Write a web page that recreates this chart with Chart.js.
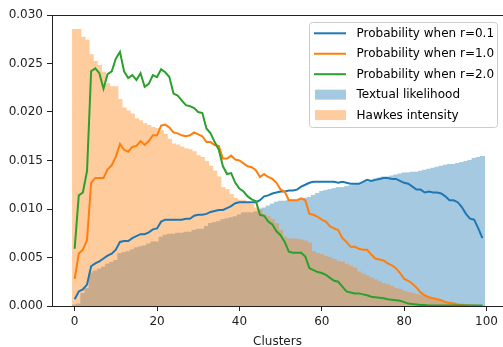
<!DOCTYPE html>
<html>
<head>
<meta charset="utf-8">
<script src="https://cdn.jsdelivr.net/npm/chart.js@4.4.1/dist/chart.umd.min.js"></script>
<style>
  html, body { margin: 0; padding: 0; background: #fff; overflow: hidden; }
  #wrap { width: 503px; height: 347px; }
</style>
</head>
<body>
<div id="wrap"><canvas id="chart" width="503" height="347"></canvas></div>
<script>
// Cluster indices 0..99
const clusters = Array.from({ length: 100 }, (_, i) => i);

const xTicks = [0, 20, 40, 60, 80, 100];
const yTicks = [0, 0.005, 0.01, 0.015, 0.02, 0.025, 0.03];

const labels = [
  "Probability when r=0.1",
  "Probability when r=1.0",
  "Probability when r=2.0",
  "Textual likelihood",
  "Hawkes intensity"
];

const probR01 = [
  0.0007, 0.0015, 0.0017, 0.0022, 0.0041, 0.0044, 0.0046, 0.0049, 0.0052, 0.0054,
  0.0058, 0.0066, 0.0067, 0.0067, 0.0070, 0.0072, 0.0074, 0.0074, 0.0076, 0.0079,
  0.0080, 0.0087, 0.0089, 0.0089, 0.0089, 0.0089, 0.0089, 0.0090, 0.0090, 0.0093,
  0.0094, 0.0094, 0.0095, 0.0097, 0.0098, 0.0099, 0.0099, 0.0101, 0.0103, 0.0106,
  0.0107, 0.0107, 0.0107, 0.0107, 0.0107, 0.0109, 0.0113, 0.0114, 0.0116, 0.0117,
  0.0118, 0.0118, 0.0119, 0.0119, 0.0120, 0.0123, 0.0125, 0.0127, 0.0128, 0.0128,
  0.0128, 0.0128, 0.0128, 0.0128, 0.0127, 0.0128, 0.0127, 0.0126, 0.0126, 0.0126,
  0.0128, 0.0130, 0.0129, 0.0130, 0.0131, 0.0132, 0.0132, 0.0131, 0.0131, 0.0129,
  0.0127, 0.0126, 0.0123, 0.0120, 0.0120, 0.0117, 0.0118, 0.0117, 0.0117, 0.0116,
  0.0113, 0.0109, 0.0109, 0.0107, 0.0102, 0.0095, 0.0090, 0.0089, 0.0080, 0.0070
];

const probR10 = [
  0.0028, 0.0054, 0.0058, 0.0068, 0.0127, 0.0132, 0.0132, 0.0132, 0.0141, 0.0145,
  0.0154, 0.0167, 0.0161, 0.0159, 0.0164, 0.0165, 0.0170, 0.0166, 0.0170, 0.0176,
  0.0176, 0.0186, 0.0187, 0.0184, 0.0179, 0.0178, 0.0176, 0.0175, 0.0176, 0.0179,
  0.0177, 0.0175, 0.0169, 0.0169, 0.0166, 0.0165, 0.0152, 0.0152, 0.0155, 0.0151,
  0.0150, 0.0147, 0.0144, 0.0143, 0.0140, 0.0133, 0.0136, 0.0133, 0.0131, 0.0127,
  0.0120, 0.0118, 0.0109, 0.0109, 0.0109, 0.0111, 0.0109, 0.0095, 0.0094, 0.0092,
  0.0089, 0.0087, 0.0082, 0.0080, 0.0078, 0.0070, 0.0066, 0.0061, 0.0061, 0.0059,
  0.0058, 0.0058, 0.0053, 0.0049, 0.0048, 0.0047, 0.0044, 0.0042, 0.0039, 0.0034,
  0.0028, 0.0026, 0.0023, 0.0019, 0.0014, 0.0011, 0.0009, 0.0008, 0.0007, 0.0006,
  0.0004, 0.0003, 0.00025, 0.00015, 0.0001, 0.00005, 0.00003, 0.00002, 0.00001, 0.00001
];

const probR20 = [
  0.0059, 0.0114, 0.0117, 0.0139, 0.0242, 0.0245, 0.0240, 0.0224, 0.0239, 0.0242,
  0.0255, 0.0262, 0.0242, 0.0235, 0.0238, 0.0233, 0.0240, 0.0226, 0.0229, 0.0238,
  0.0236, 0.0244, 0.0241, 0.0236, 0.0219, 0.0217, 0.0212, 0.0207, 0.0206, 0.0204,
  0.0200, 0.0199, 0.0183, 0.0178, 0.0169, 0.0161, 0.0144, 0.0136, 0.0137, 0.0127,
  0.0121, 0.0118, 0.0113, 0.0110, 0.0108, 0.0094, 0.0093, 0.0087, 0.0084, 0.0077,
  0.0073, 0.0066, 0.0056, 0.0055, 0.0055, 0.0055, 0.0051, 0.0039, 0.0037, 0.0035,
  0.0034, 0.0032, 0.0029, 0.0026, 0.0025, 0.0020, 0.0015, 0.0014, 0.0013, 0.0013,
  0.0012, 0.0011, 0.00095, 0.0009, 0.00085, 0.0008, 0.0007, 0.00065, 0.0006, 0.00055,
  0.0004, 0.00025, 0.0002, 0.00015, 0.0001, 0.0001, 0.00005, 0.00005, 0.00005, 0.00005,
  0.00005, 0.00005, 0.00005, 0.00005, 0.00005, 0.00005, 0.00005, 0.00005, 0.00005, 0.00005
];

const textual = [
  0.0001, 0.0002, 0.0013, 0.0018, 0.0034, 0.0036, 0.0038, 0.0040, 0.0043, 0.0045,
  0.0047, 0.0054, 0.0055, 0.0056, 0.0058, 0.0060, 0.0061, 0.0062, 0.0064, 0.0066,
  0.0066, 0.0071, 0.0073, 0.0074, 0.0074, 0.0075, 0.0075, 0.0076, 0.0076, 0.0078,
  0.0079, 0.0079, 0.0082, 0.0085, 0.0086, 0.0087, 0.0089, 0.0090, 0.0091, 0.0092,
  0.0094, 0.0096, 0.0096, 0.0096, 0.0097, 0.0100, 0.0101, 0.0103, 0.0105, 0.0107,
  0.0108, 0.0108, 0.0109, 0.0109, 0.0109, 0.0110, 0.0111, 0.0112, 0.0114, 0.0116,
  0.0118, 0.0119, 0.0120, 0.0121, 0.0122, 0.0122, 0.0123, 0.0124, 0.0125, 0.0126,
  0.0127, 0.0128, 0.0129, 0.0131, 0.0132, 0.0133, 0.0133, 0.0134, 0.0135, 0.0136,
  0.0137, 0.0137, 0.0138, 0.0138, 0.0139, 0.0140, 0.0141, 0.0142, 0.0143, 0.0144,
  0.0145, 0.0146, 0.0146, 0.0147, 0.0148, 0.0149, 0.0150, 0.0152, 0.0153, 0.0154
];

const hawkes = [
  0.0285, 0.0285, 0.0277, 0.0274, 0.0259, 0.0252, 0.0248, 0.0241, 0.0229, 0.0226,
  0.0226, 0.0213, 0.0204, 0.0201, 0.0198, 0.0193, 0.0191, 0.0188, 0.0186, 0.0184,
  0.0183, 0.0181, 0.0177, 0.0172, 0.0167, 0.0166, 0.0164, 0.0162, 0.0161, 0.0159,
  0.0155, 0.0153, 0.0149, 0.0144, 0.0139, 0.0133, 0.0122, 0.0120, 0.0115, 0.0111,
  0.0109, 0.0109, 0.0106, 0.0105, 0.0101, 0.0099, 0.0094, 0.0092, 0.0089, 0.0085,
  0.0078, 0.0071, 0.0069, 0.0069, 0.0069, 0.0068, 0.0067, 0.0065, 0.0056, 0.0054,
  0.0053, 0.0051, 0.0050, 0.0048, 0.0046, 0.0045, 0.0043, 0.0041, 0.0039, 0.0035,
  0.0033, 0.0031, 0.0029, 0.0027, 0.0025, 0.0023, 0.0022, 0.0020, 0.0018, 0.0017,
  0.0015, 0.0014, 0.0013, 0.0012, 0.0011, 0.0010, 0.0009, 0.0008, 0.0007, 0.0005,
  0.0004, 0.0004, 0.0003, 0.0002, 0.0002, 0.0001, 0.0001, 0.00005, 0.00003, 0.00002
];

const FONT = '"DejaVu Sans", sans-serif';
const INK = "#222";

function toPoints(values){
  return clusters.map((c, i) => ({ x: c, y: values[i] }));
}

function lineSet(label, values, color, order){
  return {
    type: "line",
    label: label,
    data: toPoints(values),
    borderColor: color,
    backgroundColor: color,
    borderWidth: 2,
    pointRadius: 0,
    tension: 0,
    fill: false,
    order: order
  };
}

function barSet(label, values, color, order, legendColor, layerAlpha){
  return {
    type: "bar",
    label: label,
    data: toPoints(values),
    backgroundColor: color,
    borderWidth: 0,
    barPercentage: 1,
    categoryPercentage: 1,
    grouped: false,
    inflateAmount: 0.5,
    order: order,
    legendColor: legendColor,
    layerAlpha: layerAlpha
  };
}

// draw a bar dataset solid on its own layer, then lay the layer down
// with transparency (stops seams between neighbouring bars)
const alphaLayer = {
  id: "alphaLayer",
  beforeDatasetDraw(chart, args){
    const ds = chart.data.datasets[args.index];
    if(!ds.layerAlpha) return;
    const { ctx, chartArea, canvas } = chart;
    const off = document.createElement("canvas");
    off.width = canvas.width;
    off.height = canvas.height;
    const octx = off.getContext("2d");
    args.meta.data.forEach(el => el.draw(octx));
    ctx.save();
    ctx.beginPath();
    ctx.rect(chartArea.left, chartArea.top,
      chartArea.right - chartArea.left, chartArea.bottom - chartArea.top);
    ctx.clip();
    ctx.globalAlpha = ds.layerAlpha;
    ctx.drawImage(off, 0, 0);
    ctx.restore();
    return false;
  }
};

// top spine, like the matplotlib frame
const topSpine = {
  id: "topSpine",
  afterDatasetsDraw(chart){
    const { ctx, chartArea } = chart;
    ctx.save();
    ctx.strokeStyle = INK;
    ctx.lineWidth = 1;
    ctx.beginPath();
    ctx.moveTo(chartArea.left, chartArea.top + 0.5);
    ctx.lineTo(chartArea.right, chartArea.top + 0.5);
    ctx.stroke();
    ctx.restore();
  }
};

// framed legend in the upper right corner
const boxLegend = {
  id: "boxLegend",
  afterDraw(chart){
    const { ctx, chartArea } = chart;
    const sets = chart.data.datasets;
    const w = 188, h = 105;
    const x0 = chartArea.right - 6 - w + 0.5;
    const y0 = chartArea.top + 7.5;
    ctx.save();
    ctx.beginPath();
    ctx.roundRect(x0, y0, w, h, 3);
    ctx.fillStyle = "rgba(255,255,255,0.8)";
    ctx.fill();
    ctx.strokeStyle = "#cccccc";
    ctx.lineWidth = 1;
    ctx.stroke();

    ctx.font = "12px " + FONT;
    ctx.textBaseline = "middle";
    ctx.textAlign = "left";
    sets.forEach((ds, k) => {
      const yc = y0 + 10.8 + k * 20.45;
      if(ds.type === "line"){
        ctx.strokeStyle = ds.borderColor;
        ctx.lineWidth = 2;
        ctx.beginPath();
        ctx.moveTo(x0 + 4.5, yc);
        ctx.lineTo(x0 + 36.5, yc);
        ctx.stroke();
      } else {
        ctx.fillStyle = ds.legendColor;
        ctx.fillRect(x0 + 5.5, yc - 5, 31, 10);
      }
      ctx.fillStyle = "#000";
      ctx.fillText(ds.label, x0 + 47, yc + 0.5);
    });
    ctx.restore();
  }
};

const chart = new Chart(document.getElementById("chart"), {
  data: {
    datasets: [
      lineSet(labels[0], probR01, "#1f77b4", 3),
      lineSet(labels[1], probR10, "#ff7f0e", 2),
      lineSet(labels[2], probR20, "#2ca02c", 1),
      // blue at 40% over white, drawn solid
      barSet(labels[3], textual, "rgb(165,201,225)", 5, "rgb(165,201,225)", 0),
      // orange drawn solid on a layer that is laid down at 40%
      barSet(labels[4], hawkes, "rgb(255,127,14)", 4, "rgba(255,127,14,0.4)", 0.4)
    ]
  },
  options: {
    responsive: false,
    devicePixelRatio: 1,
    animation: false,
    layout: { padding: { top: 15, left: 0, right: 0, bottom: 0 } },
    plugins: {
      legend: { display: false },
      tooltip: { enabled: false }
    },
    scales: {
      x: {
        type: "linear",
        offset: false,
        min: -5.5,
        max: 104,
        afterFit: s => { s.height = 41; },
        afterBuildTicks: s => { s.ticks = xTicks.map(v => ({ value: v })); },
        ticks: {
          font: { family: FONT, size: 12 },
          color: INK,
          padding: 4,
          maxRotation: 0
        },
        grid: {
          offset: false,
          drawOnChartArea: false,
          drawTicks: true,
          tickLength: 5,
          color: INK
        },
        border: { display: true, color: INK, width: 1 },
        title: {
          display: true,
          text: "Clusters",
          font: { family: FONT, size: 12 },
          color: INK,
          padding: { top: 0, bottom: -2 }
        }
      },
      y: {
        type: "linear",
        min: 0,
        max: 0.03,
        afterFit: s => { s.width = 52; },
        afterBuildTicks: s => { s.ticks = yTicks.map(v => ({ value: v })); },
        ticks: {
          font: { family: FONT, size: 12 },
          color: INK,
          padding: 4,
          callback: v => Number(v).toFixed(3)
        },
        grid: {
          drawOnChartArea: false,
          drawTicks: true,
          tickLength: 5,
          color: INK
        },
        border: { display: true, color: INK, width: 1 }
      }
    }
  },
  plugins: [alphaLayer, topSpine, boxLegend]
});
</script>
</body>
</html>
